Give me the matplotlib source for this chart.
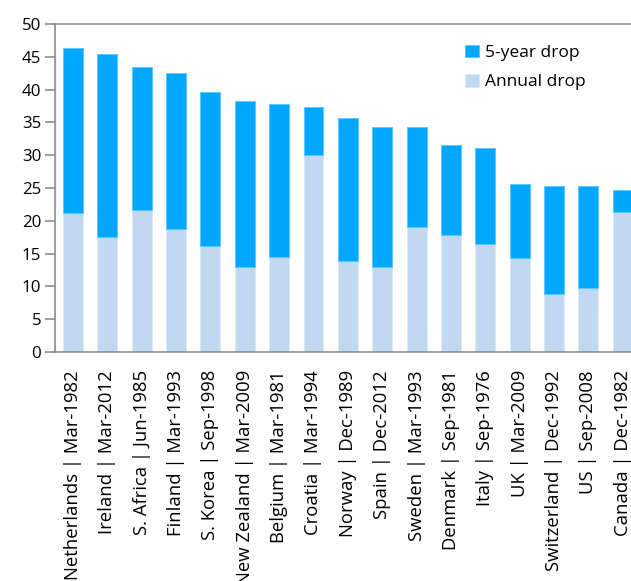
import matplotlib
matplotlib.use("Agg")
import numpy as np
import matplotlib.pyplot as plt

# =========================================================
# DATA
# =========================================================

labels = [
    "Netherlands | Mar-1982", "Ireland | Mar-2012", "S. Africa | Jun-1985",
    "Finland | Mar-1993", "S. Korea | Sep-1998", "New Zealand | Mar-2009",
    "Belgium | Mar-1981", "Croatia | Mar-1994", "Norway | Dec-1989",
    "Spain | Dec-2012", "Sweden | Mar-1993", "Denmark | Sep-1981",
    "Italy | Sep-1976", "UK | Mar-2009", "Switzerland | Dec-1992",
    "US | Sep-2008", "Canada | Dec-1982",
]

five_year_drop = [46.3, 45.5, 43.5, 42.5, 39.6, 38.2, 37.8, 37.4, 35.7,
                  34.3, 34.3, 31.5, 31.1, 25.6, 25.3, 25.3, 24.7]
annual_drop = [21.2, 17.6, 21.6, 18.8, 16.1, 12.9, 14.5, 30.0, 13.9,
               12.9, 19.0, 17.8, 16.5, 14.3, 8.8, 9.8, 21.4]

y_ticks = [0, 5, 10, 15, 20, 25, 30, 35, 40, 45, 50]

# =========================================================
# PLOT
# =========================================================

plt.rcParams["font.family"] = ["Open Sans", "DejaVu Sans"]

fig = plt.figure(figsize=(6.31, 5.81), dpi=100)
ax = fig.add_axes([0.0872, 0.3941, 0.927, 0.5645])

x = np.arange(len(labels))
annual = np.array(annual_drop)
extra = np.array(five_year_drop) - annual

light = "#C0D9F1"
dark = "#00A7FF"

ax.bar(x, annual, width=0.58, color=light, edgecolor="#DCEAF7",
       linewidth=0.6, label="Annual drop")
ax.bar(x, extra, bottom=annual, width=0.58, color=dark, edgecolor="#5CC6FF",
       linewidth=0.6, label="5-year drop")

ax.set_xlim(-0.52, len(labels) - 0.5)
ax.set_ylim(0, 50)
ax.set_yticks(y_ticks)
ax.set_xticks(x)
ax.set_xticklabels(labels, rotation=90, fontsize=13.3, va="top", ha="center")
ax.tick_params(axis="x", length=0, pad=13)
ax.tick_params(axis="y", length=7, color="#8C8C8C", width=1.2,
               labelsize=12.2, pad=3)

for side in ["left", "bottom", "top"]:
    ax.spines[side].set_color("#8C8C8C")
    ax.spines[side].set_linewidth(1.2)
ax.spines["right"].set_visible(False)

handles, lbls = ax.get_legend_handles_labels()
ax.legend(handles[::-1], lbls[::-1], loc="upper left",
          bbox_to_anchor=(0.675, 0.985), frameon=False, fontsize=12.5,
          handlelength=0.75, handleheight=0.75, handletextpad=0.35,
          labelspacing=0.75)

plt.savefig("out.png", dpi=100)
plt.close()
